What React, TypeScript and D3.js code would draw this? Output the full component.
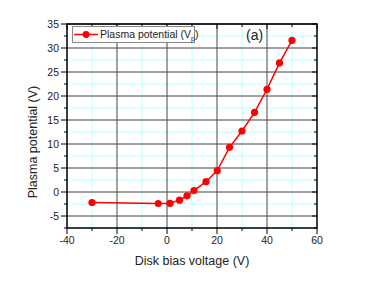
import React from "react";
import * as d3 from "d3";

const biasVoltage = [-30, -3.5, 1.2, 5, 8, 10.8, 15.6, 20.1, 25, 30, 35, 40, 45, 50];
const plasmaPotential = [-2.2, -2.4, -2.35, -1.7, -0.8, 0.3, 2.15, 4.45, 9.3, 12.7, 16.6, 21.4, 26.9, 31.6];
const xTicks = [-40, -20, 0, 20, 40, 60];
const yTicks = [-5, 0, 5, 10, 15, 20, 25, 30, 35];
const xMinor = [-30, -10, 10, 30, 50];
const yMinor = [-7.5, -2.5, 2.5, 7.5, 12.5, 17.5, 22.5, 27.5, 32.5];
const seriesName = "Plasma potential (V";
const panelLabel = "(a)";

const W = 367, H = 286;
const L = 67, R = 317, T = 24, B = 228;
const font = "Liberation Sans, Arial, sans-serif";

export default function App() {
  const x = d3.scaleLinear().domain([-40, 60]).range([L, R]);
  const y = d3.scaleLinear().domain([-7.5, 35]).range([B, T]);
  const line = d3.line<number>().x((_, i) => x(biasVoltage[i])).y((d) => y(d));
  return (
    <svg width={W} height={H} style={{ position: "absolute", left: 0, top: 0 }} fontFamily={font}>
      <rect x={0} y={0} width={W} height={H} fill="#fff" />
      {xMinor.map((v) => (
        <line key={"xm" + v} x1={x(v)} x2={x(v)} y1={T} y2={B} stroke="#9ff" strokeWidth={1} strokeDasharray="1.5,1" />
      ))}
      {yMinor.map((v) => (
        <line key={"ym" + v} x1={L} x2={R} y1={y(v)} y2={y(v)} stroke="#9ff" strokeWidth={1} strokeDasharray="1.5,1" />
      ))}
      {xTicks.slice(1, -1).map((v) => (
        <line key={"xg" + v} x1={x(v)} x2={x(v)} y1={T} y2={B} stroke="#444" strokeWidth={1} />
      ))}
      {yTicks.map((v) => (
        <line key={"yg" + v} x1={L} x2={R} y1={y(v)} y2={y(v)} stroke="#444" strokeWidth={1} />
      ))}
      {xTicks.map((v) => (
        <g key={"xt" + v}>
          <line x1={x(v)} x2={x(v)} y1={B} y2={B + 6} stroke="#000" strokeWidth={1} />
          <line x1={x(v)} x2={x(v)} y1={T} y2={T + 5} stroke="#000" strokeWidth={1} />
          <text x={x(v)} y={244} fontSize={10.5} textAnchor="middle" fill="#222">{v}</text>
        </g>
      ))}
      {xMinor.map((v) => (
        <g key={"xmt" + v}>
          <line x1={x(v)} x2={x(v)} y1={B} y2={B + 3} stroke="#000" strokeWidth={1} />
          <line x1={x(v)} x2={x(v)} y1={T} y2={T + 3} stroke="#000" strokeWidth={1} />
        </g>
      ))}
      {yTicks.map((v) => (
        <g key={"yt" + v}>
          <line x1={L - 6} x2={L} y1={y(v)} y2={y(v)} stroke="#000" strokeWidth={1} />
          <line x1={R - 5} x2={R} y1={y(v)} y2={y(v)} stroke="#000" strokeWidth={1} />
          <text x={59} y={y(v) + 3.8} fontSize={10.5} textAnchor="end" fill="#222">{v}</text>
        </g>
      ))}
      {yMinor.map((v) => (
        <g key={"ymt" + v}>
          <line x1={L - 3} x2={L} y1={y(v)} y2={y(v)} stroke="#000" strokeWidth={1} />
          <line x1={R - 3} x2={R} y1={y(v)} y2={y(v)} stroke="#000" strokeWidth={1} />
        </g>
      ))}
      <rect x={L} y={T} width={R - L} height={B - T} fill="none" stroke="#000" strokeWidth={1.5} />
      <path d={line(plasmaPotential) || ""} fill="none" stroke="#f00" strokeWidth={1.5} />
      {plasmaPotential.map((v, i) => (
        <circle key={"p" + i} cx={x(biasVoltage[i])} cy={y(v)} r={3.6} fill="#f00" />
      ))}
      <rect x={72.5} y={26.5} width={122} height={16} fill="#fff" stroke="#888" strokeWidth={1} />
      <line x1={74} x2={98} y1={34.5} y2={34.5} stroke="#f00" strokeWidth={1.5} />
      <circle cx={86} cy={34.5} r={3.4} fill="#f00" />
      <text x={100} y={38} fontSize={10.5} fill="#222">
        {seriesName}
        <tspan fontSize={7} dy={3}>p</tspan>
        <tspan dy={-3}>)</tspan>
      </text>
      <text x={246} y={40} fontSize={14} fill="#222">{panelLabel}</text>
      <text x={192} y={265} fontSize={12.5} textAnchor="middle" fill="#222">Disk bias voltage (V)</text>
      <text transform={`translate(37,142) rotate(-90)`} fontSize={12.5} textAnchor="middle" fill="#222">Plasma potential (V)</text>
    </svg>
  );
}
